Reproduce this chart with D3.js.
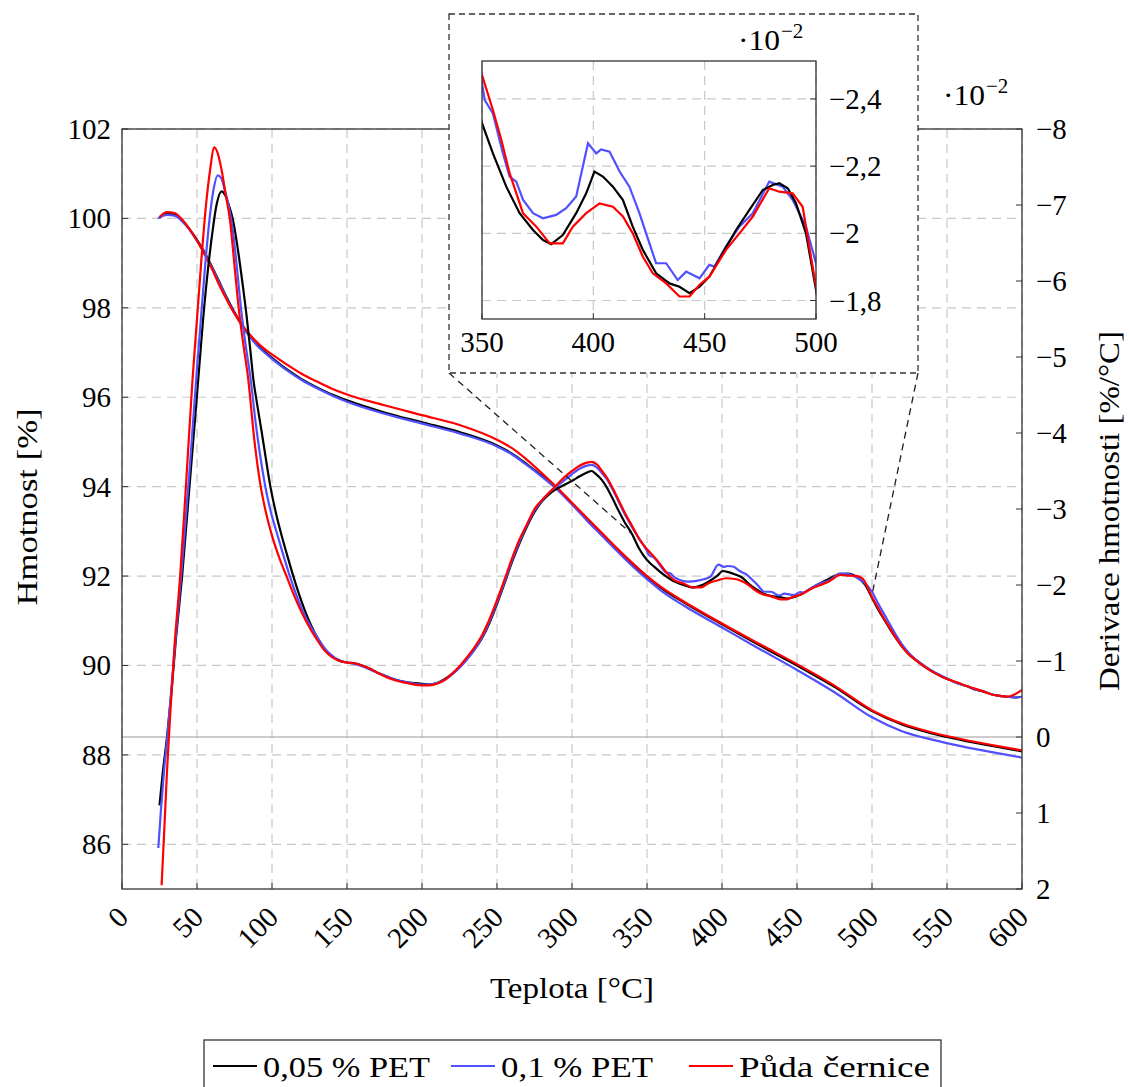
<!DOCTYPE html>
<html><head><meta charset="utf-8">
<script src="https://cdn.jsdelivr.net/npm/d3@7"></script>
<style>body{margin:0;background:#fff}</style>
</head><body>
<svg id="c" width="1129" height="1087"></svg>
<script>
// ---------------- DATA ----------------
const seriesNames = ["0,05 % PET", "0,1 % PET", "Půda černice"];
const seriesColors = ["#000000", "#5050ff", "#ff0000"];

const xTicks = [0,50,100,150,200,250,300,350,400,450,500,550,600];
const yLeftTicks = [86,88,90,92,94,96,98,100,102];
const yRightTicks = [-8,-7,-6,-5,-4,-3,-2,-1,0,1,2];
const insetXTicks = [350,400,450,500];
const insetYTicks = [-2.4,-2.2,-2.0,-1.8];

// TG: [temperature °C, mass %]
const tg005 = [[25,100.02],[30,100.1],[35,100.08],[40,99.95],[45,99.76],[50,99.52],[55,99.24],[60,98.92],[65,98.57],[70,98.22],[75,97.9],[80,97.62],[85,97.38],[90,97.18],[95,97.02],[100,96.88],[110,96.62],[120,96.4],[130,96.22],[140,96.06],[150,95.93],[175,95.66],[200,95.44],[225,95.22],[250,94.92],[260,94.74],[270,94.5],[280,94.24],[290,93.96],[300,93.62],[310,93.27],[320,92.93],[330,92.6],[340,92.27],[350,91.98],[360,91.72],[375,91.4],[400,90.92],[425,90.45],[450,90.0],[475,89.52],[500,88.98],[520,88.68],[540,88.48],[560,88.33],[580,88.2],[600,88.08]];
const tg01 = [[24,100.0],[30,100.08],[35,100.06],[40,99.94],[45,99.75],[50,99.5],[55,99.22],[60,98.9],[65,98.55],[70,98.2],[75,97.88],[80,97.6],[85,97.36],[90,97.16],[95,97.0],[100,96.86],[110,96.6],[120,96.38],[130,96.2],[140,96.04],[150,95.9],[175,95.63],[200,95.41],[225,95.19],[250,94.9],[260,94.72],[270,94.48],[280,94.22],[290,93.94],[300,93.6],[310,93.24],[320,92.9],[330,92.56],[340,92.23],[350,91.93],[360,91.66],[375,91.33],[400,90.85],[425,90.37],[450,89.9],[475,89.4],[500,88.84],[520,88.53],[540,88.34],[560,88.19],[580,88.06],[600,87.94]];
const tgPuda = [[25,100.03],[30,100.14],[35,100.12],[40,99.98],[45,99.76],[50,99.5],[55,99.2],[60,98.87],[65,98.5],[70,98.17],[75,97.87],[80,97.62],[85,97.41],[90,97.23],[95,97.08],[100,96.96],[110,96.73],[120,96.52],[130,96.35],[140,96.19],[150,96.06],[175,95.82],[200,95.6],[225,95.38],[250,95.05],[260,94.86],[270,94.6],[280,94.3],[290,93.98],[300,93.64],[310,93.3],[320,92.96],[330,92.62],[340,92.3],[350,92.0],[360,91.74],[375,91.42],[400,90.94],[425,90.48],[450,90.03],[475,89.55],[500,89.0],[520,88.7],[540,88.5],[560,88.35],[580,88.22],[600,88.1]];

// DTG: [temperature °C, derivative ·10^-2 %/°C]
const dtg005 = [[25,0.9],[27,0.5],[30,0.0],[33,-0.6],[36,-1.3],[40,-2.1],[45,-3.3],[50,-4.5],[55,-5.7],[60,-6.6],[63,-7.0],[66.4,-7.18],[69,-7.12],[71.5,-6.98],[74,-6.8],[77,-6.45],[80,-6.02],[83,-5.55],[85.5,-5.1],[87.5,-4.72],[90,-4.39],[93,-4.03],[96,-3.65],[98.7,-3.32],[102,-3.0],[106,-2.68],[110,-2.4],[114,-2.13],[118,-1.88],[122,-1.66],[126,-1.47],[131,-1.28],[136,-1.14],[141,-1.05],[146,-1.0],[150,-0.98],[155,-0.97],[160,-0.94],[165,-0.9],[170,-0.85],[175,-0.81],[180,-0.77],[185,-0.74],[190,-0.72],[195,-0.71],[200,-0.7],[205,-0.69],[210,-0.71],[215,-0.76],[220,-0.83],[225,-0.92],[230,-1.03],[235,-1.15],[240,-1.3],[245,-1.5],[250,-1.75],[255,-2.02],[260,-2.3],[265,-2.55],[270,-2.77],[275,-2.96],[280,-3.1],[285,-3.2],[290,-3.27],[295,-3.32],[300,-3.37],[305,-3.43],[310,-3.48],[313,-3.5],[316,-3.46],[320,-3.38],[323,-3.29],[327,-3.14],[331,-2.98],[335,-2.83],[340,-2.67],[345,-2.47],[350,-2.328],[354.9,-2.238],[360.9,-2.139],[366.9,-2.06],[372.9,-2.01],[377.4,-1.98],[381.1,-1.968],[386.3,-1.995],[392.3,-2.06],[396.8,-2.119],[400.5,-2.184],[404.3,-2.169],[408.8,-2.139],[413.3,-2.099],[417.7,-2.02],[422.2,-1.951],[428.2,-1.881],[434.2,-1.851],[438.7,-1.841],[443.2,-1.822],[447.7,-1.841],[452.1,-1.871],[458.1,-1.941],[464.1,-2.01],[470.1,-2.07],[476.1,-2.129],[480.6,-2.144],[483.5,-2.149],[487.3,-2.134],[491,-2.09],[495.5,-2.0],[500,-1.832],[504,-1.68],[508,-1.55],[512,-1.42],[516,-1.3],[520,-1.19],[524,-1.1],[528,-1.03],[532,-0.97],[537,-0.9],[542,-0.84],[547,-0.79],[552,-0.75],[558,-0.7],[563,-0.67],[568,-0.63],[574,-0.6],[580,-0.56],[585,-0.54],[590,-0.53],[595,-0.52],[600,-0.53]];
const dtg01 = [[24.2,1.46],[26,0.95],[28,0.45],[30,0.05],[33,-0.65],[36,-1.35],[40,-2.25],[45,-3.5],[50,-4.85],[55,-6.1],[58,-6.75],[61,-7.2],[63.8,-7.39],[66,-7.36],[68.5,-7.2],[71,-7.0],[74,-6.65],[77,-6.1],[79,-5.7],[82,-5.22],[85.8,-4.7],[89,-4.15],[92,-3.72],[95.3,-3.32],[99,-2.98],[103,-2.7],[107,-2.43],[112,-2.11],[116,-1.88],[120,-1.68],[125,-1.48],[130,-1.32],[135,-1.17],[140,-1.07],[145,-1.0],[150,-0.98],[155,-0.96],[160,-0.93],[165,-0.89],[170,-0.85],[175,-0.81],[180,-0.77],[185,-0.74],[190,-0.72],[195,-0.7],[200,-0.69],[205,-0.69],[210,-0.71],[215,-0.75],[220,-0.82],[225,-0.91],[230,-1.02],[235,-1.15],[240,-1.31],[245,-1.52],[250,-1.77],[255,-2.04],[260,-2.32],[265,-2.57],[270,-2.79],[275,-2.98],[280,-3.11],[285,-3.22],[290,-3.3],[295,-3.38],[300,-3.46],[305,-3.53],[310,-3.57],[313,-3.58],[317,-3.54],[320,-3.47],[323,-3.4],[327,-3.26],[331,-3.1],[336,-2.9],[340,-2.76],[345,-2.6],[350,-2.447],[351.2,-2.397],[354.9,-2.357],[359.4,-2.238],[362.4,-2.169],[365.4,-2.154],[368.4,-2.1],[372.9,-2.06],[377.4,-2.045],[383.3,-2.055],[387.8,-2.075],[392.3,-2.11],[397.6,-2.268],[401.3,-2.238],[403.5,-2.25],[407.3,-2.243],[411.8,-2.184],[416.2,-2.139],[420.7,-2.06],[423.7,-2.0],[428.2,-1.911],[432.7,-1.911],[437.9,-1.861],[441.7,-1.886],[447.7,-1.866],[452.1,-1.906],[454.4,-1.901],[459.6,-1.961],[465.6,-2.02],[471.6,-2.06],[479,-2.154],[485,-2.139],[489.5,-2.1],[495.5,-2.02],[500,-1.911],[504,-1.76],[508,-1.62],[512,-1.48],[516,-1.34],[520,-1.22],[524,-1.12],[528,-1.04],[532,-0.98],[537,-0.91],[542,-0.85],[547,-0.8],[552,-0.75],[558,-0.7],[563,-0.67],[568,-0.63],[574,-0.6],[580,-0.56],[585,-0.54],[590,-0.53],[595,-0.52],[600,-0.53]];
const dtgPuda = [[26.4,1.95],[28,1.3],[30,0.45],[32,-0.25],[35,-1.2],[38.7,-2.1],[42,-3.1],[47,-4.7],[50,-5.5],[53,-6.3],[56,-7.0],[59,-7.5],[61.3,-7.76],[63.5,-7.7],[66.4,-7.46],[69,-7.15],[72,-6.8],[75.3,-6.14],[78.2,-5.57],[81,-5.15],[84.2,-4.7],[88,-3.95],[92,-3.35],[96,-2.95],[100,-2.65],[105,-2.35],[110,-2.1],[115,-1.85],[120,-1.63],[125,-1.44],[130,-1.28],[135,-1.14],[140,-1.05],[145,-1.0],[150,-0.98],[155,-0.97],[160,-0.94],[165,-0.9],[170,-0.85],[175,-0.8],[180,-0.76],[185,-0.73],[190,-0.71],[195,-0.69],[200,-0.68],[205,-0.68],[210,-0.7],[215,-0.75],[220,-0.83],[225,-0.93],[230,-1.05],[235,-1.18],[240,-1.34],[245,-1.55],[250,-1.8],[255,-2.07],[260,-2.35],[265,-2.6],[270,-2.8],[275,-3.0],[280,-3.12],[285,-3.22],[290,-3.32],[295,-3.42],[300,-3.5],[305,-3.57],[310,-3.61],[313,-3.62],[317,-3.58],[320,-3.5],[323,-3.42],[327,-3.28],[331,-3.12],[336,-2.92],[340,-2.78],[345,-2.6],[350,-2.471],[354.9,-2.367],[358.7,-2.278],[362.4,-2.179],[368.4,-2.06],[374.4,-2.02],[380.4,-1.97],[386.3,-1.97],[390.8,-2.02],[396.8,-2.06],[402.8,-2.089],[408.8,-2.079],[413.3,-2.05],[417.7,-2.0],[422.2,-1.931],[426.7,-1.881],[432.7,-1.851],[438.7,-1.812],[443.2,-1.812],[447.7,-1.847],[452.1,-1.871],[459.6,-1.951],[465.6,-2.0],[471.6,-2.05],[479,-2.134],[483.5,-2.124],[489.5,-2.119],[494,-2.079],[500,-1.841],[504,-1.7],[508,-1.56],[512,-1.43],[516,-1.3],[520,-1.19],[524,-1.1],[528,-1.03],[532,-0.97],[537,-0.9],[542,-0.84],[547,-0.79],[552,-0.75],[558,-0.71],[563,-0.67],[568,-0.64],[574,-0.6],[580,-0.56],[585,-0.54],[590,-0.53],[595,-0.56],[600,-0.62]];

// points in the main plot where the inset connector lines end: [T, dtg]
const connectorTargets = [[340,-2.67],[500,-1.87]];

// ---------------- DRAW ----------------
const FONT = "'Liberation Serif','Times New Roman',serif";
const svg = d3.select("#c");
const M = {l:122, r:1022, t:129, b:889};
const x = d3.scaleLinear().domain([0,600]).range([M.l, M.r]);
const yL = d3.scaleLinear().domain([85,102]).range([M.b, M.t]);
const yR = d3.scaleLinear().domain([2,-8]).range([M.b, M.t]);
const gridColor = "#c8c8c8", gridDash = "9,6";

svg.append("defs").append("clipPath").attr("id","mainClip")
  .append("rect").attr("x",M.l).attr("y",M.t).attr("width",M.r-M.l).attr("height",M.b-M.t);

const gGrid = svg.append("g");
xTicks.forEach(t => gGrid.append("line").attr("x1",x(t)).attr("x2",x(t)).attr("y1",M.t).attr("y2",M.b)
  .attr("stroke",gridColor).attr("stroke-width",1.2).attr("stroke-dasharray",gridDash));
yLeftTicks.forEach(t => gGrid.append("line").attr("x1",M.l).attr("x2",M.r).attr("y1",yL(t)).attr("y2",yL(t))
  .attr("stroke",gridColor).attr("stroke-width",1.2).attr("stroke-dasharray",gridDash));

// zero line of the right axis
svg.append("line").attr("x1",M.l).attr("x2",M.r).attr("y1",yR(0)).attr("y2",yR(0))
  .attr("stroke","#999").attr("stroke-width",1.1);

const gCurves = svg.append("g").attr("clip-path","url(#mainClip)");
const lineTG = d3.line().x(d=>x(d[0])).y(d=>yL(d[1])).curve(d3.curveMonotoneX);
const lineDTG = d3.line().x(d=>x(d[0])).y(d=>yR(d[1])).curve(d3.curveMonotoneX);
const tgs = [tg005, tg01, tgPuda], dtgs = [dtg005, dtg01, dtgPuda];
[0,1,2].forEach(i => {
  gCurves.append("path").attr("d",lineTG(tgs[i])).attr("fill","none").attr("stroke",seriesColors[i]).attr("stroke-width",2.2);
});
[0,1,2].forEach(i => {
  gCurves.append("path").attr("d",lineDTG(dtgs[i])).attr("fill","none").attr("stroke",seriesColors[i]).attr("stroke-width",2.2);
});

// frame & ticks
const axCol = "#333";
svg.append("rect").attr("x",M.l).attr("y",M.t).attr("width",M.r-M.l).attr("height",M.b-M.t)
  .attr("fill","none").attr("stroke",axCol).attr("stroke-width",1.3);
xTicks.forEach(t => svg.append("line").attr("x1",x(t)).attr("x2",x(t)).attr("y1",M.b).attr("y2",M.b-6).attr("stroke",axCol));
yLeftTicks.forEach(t => svg.append("line").attr("x1",M.l).attr("x2",M.l+6).attr("y1",yL(t)).attr("y2",yL(t)).attr("stroke",axCol));
yRightTicks.forEach(t => svg.append("line").attr("x1",M.r).attr("x2",M.r-6).attr("y1",yR(t)).attr("y2",yR(t)).attr("stroke",axCol));

const FS = 29;
const txt = (sel) => sel.attr("font-family",FONT).attr("font-size",FS).attr("fill","#000");
const fmtNum = v => (v<0 ? "\u2212" : "") + String(Math.abs(v)).replace(".",",");

// x tick labels (rotated 45°)
xTicks.forEach(t => svg.append("text").call(txt)
  .attr("transform",`translate(${x(t)+1},${M.b+23}) rotate(-45)`)
  .attr("text-anchor","end").attr("dominant-baseline","central").text(t));
// left tick labels
yLeftTicks.forEach(t => svg.append("text").call(txt)
  .attr("x",M.l-11).attr("y",yL(t)).attr("text-anchor","end").attr("dominant-baseline","central").text(t));
// right tick labels
yRightTicks.forEach(t => svg.append("text").call(txt)
  .attr("x",M.r+14).attr("y",yR(t)).attr("text-anchor","start").attr("dominant-baseline","central").text(fmtNum(t)));

// axis titles
svg.append("text").call(txt).attr("x",(M.l+M.r)/2).attr("y",998).attr("text-anchor","middle")
  .attr("textLength",164).attr("lengthAdjust","spacingAndGlyphs").text("Teplota [°C]");
svg.append("text").call(txt).attr("transform",`translate(37,507) rotate(-90)`).attr("text-anchor","middle")
  .attr("textLength",197).attr("lengthAdjust","spacingAndGlyphs").text("Hmotnost [%]");
svg.append("text").call(txt).attr("transform",`translate(1119,511) rotate(-90)`).attr("text-anchor","middle")
  .attr("textLength",360).attr("lengthAdjust","spacingAndGlyphs").text("Derivace hmotnosti [%/°C]");

// exponent label
function expLabel(xx, yy) {
  const t = svg.append("text").call(txt).attr("x",xx).attr("y",yy);
  t.append("tspan").attr("textLength",42).attr("lengthAdjust","spacingAndGlyphs").text("·10");
  t.append("tspan").attr("font-size",21).attr("dy",-12).attr("dx",1).text("\u22122");
}
expLabel(943,105);

// connector lines from inset box to main plot
const box = {x:449, y:14, w:469, h:359};
svg.append("line").attr("x1",box.x).attr("y1",box.y+box.h)
  .attr("x2",x(connectorTargets[0][0])).attr("y2",yR(connectorTargets[0][1]))
  .attr("stroke","#222").attr("stroke-width",1.3).attr("stroke-dasharray","7,5");
svg.append("line").attr("x1",box.x+box.w).attr("y1",box.y+box.h)
  .attr("x2",x(connectorTargets[1][0])).attr("y2",yR(connectorTargets[1][1]))
  .attr("stroke","#222").attr("stroke-width",1.3).attr("stroke-dasharray","7,5");

// ---------------- INSET ----------------
svg.append("rect").attr("x",box.x).attr("y",box.y).attr("width",box.w).attr("height",box.h)
  .attr("fill","#fff").attr("stroke","#333").attr("stroke-width",1.3).attr("stroke-dasharray","6,4");
const I = {l:482, r:816, t:61, b:319};
const xi = d3.scaleLinear().domain([350,500]).range([I.l, I.r]);
const yi = d3.scaleLinear().domain([-1.745,-2.513]).range([I.b, I.t]);
svg.select("defs").append("clipPath").attr("id","insetClip")
  .append("rect").attr("x",I.l).attr("y",I.t).attr("width",I.r-I.l).attr("height",I.b-I.t);
insetXTicks.forEach(t => svg.append("line").attr("x1",xi(t)).attr("x2",xi(t)).attr("y1",I.t).attr("y2",I.b)
  .attr("stroke",gridColor).attr("stroke-width",1.2).attr("stroke-dasharray",gridDash));
insetYTicks.forEach(t => svg.append("line").attr("x1",I.l).attr("x2",I.r).attr("y1",yi(t)).attr("y2",yi(t))
  .attr("stroke",gridColor).attr("stroke-width",1.2).attr("stroke-dasharray",gridDash));
const gIn = svg.append("g").attr("clip-path","url(#insetClip)");
const lineIn = d3.line().x(d=>xi(d[0])).y(d=>yi(d[1])).curve(d3.curveLinear);
[1,0,2].forEach(i => {
  const pts = dtgs[i].filter(d => d[0] >= 345 && d[0] <= 505);
  gIn.append("path").attr("d",lineIn(pts)).attr("fill","none").attr("stroke",seriesColors[i]).attr("stroke-width",2.2);
});
svg.append("rect").attr("x",I.l).attr("y",I.t).attr("width",I.r-I.l).attr("height",I.b-I.t)
  .attr("fill","none").attr("stroke",axCol).attr("stroke-width",1.3);
insetXTicks.forEach(t => {
  svg.append("line").attr("x1",xi(t)).attr("x2",xi(t)).attr("y1",I.b).attr("y2",I.b-6).attr("stroke",axCol);
  svg.append("text").call(txt).attr("x",xi(t)).attr("y",I.b+33).attr("text-anchor","middle").text(t);
});
insetYTicks.forEach(t => {
  svg.append("line").attr("x1",I.r).attr("x2",I.r-6).attr("y1",yi(t)).attr("y2",yi(t)).attr("stroke",axCol);
  svg.append("text").call(txt).attr("x",I.r+13).attr("y",yi(t)).attr("dominant-baseline","central").text(fmtNum(t));
});
expLabel(738,50);

// ---------------- LEGEND ----------------
const lg = svg.append("g");
lg.append("rect").attr("x",204).attr("y",1040).attr("width",737).attr("height",60)
  .attr("fill","#fff").attr("stroke","#333").attr("stroke-width",1.3);
const legX = [213, 451, 689];
const legW = [167, 152, 191];
seriesNames.forEach((n,i) => {
  lg.append("line").attr("x1",legX[i]).attr("x2",legX[i]+44).attr("y1",1066).attr("y2",1066)
    .attr("stroke",seriesColors[i]).attr("stroke-width",2.2);
  lg.append("text").call(txt).attr("x",legX[i]+50).attr("y",1077)
    .attr("textLength",legW[i]).attr("lengthAdjust","spacingAndGlyphs").text(n);
});
</script>
</body></html>
